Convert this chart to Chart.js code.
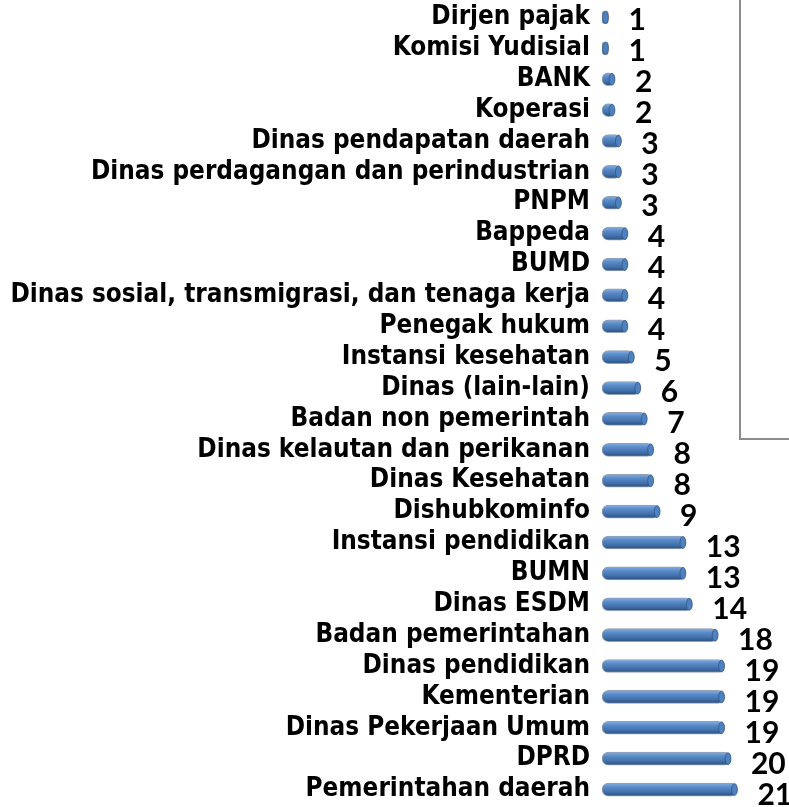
<!DOCTYPE html>
<html lang="id">
<head>
  <meta charset="UTF-8" />
  <title>Jumlah per instansi</title>
  <script src="https://cdn.jsdelivr.net/npm/chart.js"></script>
  <style>
    body {
      margin: 0;
      background: #ffffff;
    }
    #wrap {
      position: relative;
      width: 789px;
      height: 807px;
    }
    #frame {
      position: absolute;
      left: 739px;
      top: 0;
      width: 52px;
      height: 438px;
      border-left: 2px solid #8c8c8c;
      border-bottom: 2px solid #8c8c8c;
    }
  </style>
</head>
<body>
  <div id="wrap">
    <div id="frame"></div>
    <canvas id="barChart" width="789" height="807"></canvas>
  </div>
  <script>
    const categories = [
      "Dirjen pajak", "Komisi Yudisial", "BANK", "Koperasi",
      "Dinas pendapatan daerah", "Dinas perdagangan dan perindustrian", "PNPM",
      "Bappeda", "BUMD", "Dinas sosial, transmigrasi, dan tenaga kerja",
      "Penegak hukum", "Instansi kesehatan", "Dinas (lain-lain)",
      "Badan non pemerintah", "Dinas kelautan dan perikanan", "Dinas Kesehatan",
      "Dishubkominfo", "Instansi pendidikan", "BUMN", "Dinas ESDM",
      "Badan pemerintahan", "Dinas pendidikan", "Kementerian",
      "Dinas Pekerjaan Umum", "DPRD", "Pemerintahan daerah"
    ];
    const counts = [
      1, 1, 2, 2,
      3, 3, 3,
      4, 4, 4,
      4, 5, 6,
      7, 8, 8,
      9, 13, 13, 14,
      18, 19, 19,
      19, 20, 21
    ];

    const labelFamily = "'DejaVu Sans Condensed', 'DejaVu Sans', sans-serif";
    const valueFamily = "Lato, 'Open Sans', sans-serif";

    // size the category font so the longest name fills the left side
    const probe = document.createElement("canvas").getContext("2d");
    probe.font = "bold 22px " + labelFamily;
    let widest = 0;
    categories.forEach(c => { widest = Math.max(widest, probe.measureText(c).width); });
    const labelSize = Math.min(26, 22 * 580 / widest);

    function barFill(c) {
      const chart = c.chart;
      const y = chart.scales.y;
      if (!y || c.dataIndex === undefined) return "#4f81bd";
      const py = y.getPixelForValue(c.dataIndex);
      if (!isFinite(py)) return "#4f81bd";
      const g = chart.ctx.createLinearGradient(0, py - 6.5, 0, py + 6.5);
      g.addColorStop(0, "#86aedf");
      g.addColorStop(0.3, "#5a8cca");
      g.addColorStop(0.7, "#416fa9");
      g.addColorStop(1, "#2a4f7d");
      return g;
    }

    const endCaps = {
      id: "endCaps",
      afterDatasetsDraw(chart) {
        const ctx = chart.ctx;
        const meta = chart.getDatasetMeta(0);
        ctx.save();
        meta.data.forEach((bar, i) => {
          const h = bar.height / 2;
          ctx.beginPath();
          ctx.ellipse(bar.x - h * 0.45, bar.y, h * 0.45, h - 0.5, 0, 0, Math.PI * 2);
          ctx.fillStyle = "#4f81bd";
          ctx.fill();
          ctx.strokeStyle = "rgba(40,75,120,0.6)";
          ctx.lineWidth = 1;
          ctx.stroke();

          ctx.fillStyle = "#000000";
          ctx.font = "bold 30px " + valueFamily;
          ctx.textAlign = "left";
          ctx.textBaseline = "middle";
          ctx.fillText(String(counts[i]), bar.x + 20, bar.y + 3 + i * 0.12);
        });
        ctx.restore();
      }
    };

    new Chart(document.getElementById("barChart").getContext("2d"), {
      type: "bar",
      data: {
        labels: categories,
        datasets: [{
          data: counts,
          backgroundColor: barFill,
          borderColor: "rgba(35,65,105,0.5)",
          borderWidth: 1,
          borderSkipped: false,
          borderRadius: 6.5,
          barThickness: 13
        }]
      },
      options: {
        indexAxis: "y",
        responsive: false,
        animation: false,
        layout: { padding: { left: 8, right: 0, top: 2, bottom: 2 } },
        scales: {
          x: {
            display: false,
            min: 0,
            max: 29
          },
          y: {
            grid: { display: false, drawTicks: false },
            border: { display: false },
            afterFit(scale) {
              scale.width = 594;
              scale.paddingTop = 0;
              scale.paddingBottom = 0;
            },
            ticks: {
              color: "#000000",
              padding: 12,
              autoSkip: false,
              font: { family: labelFamily, weight: "bold", size: labelSize }
            }
          }
        },
        plugins: {
          legend: { display: false },
          tooltip: { enabled: false }
        }
      },
      plugins: [endCaps]
    });
  </script>
</body>
</html>
